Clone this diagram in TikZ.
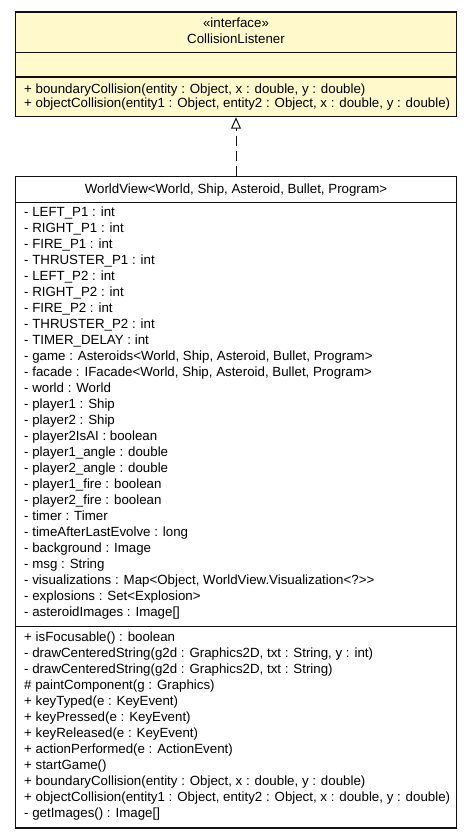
\documentclass[tikz,border=0pt]{standalone}
\usepackage{fontspec}
\setmainfont{Liberation Sans}
\usetikzlibrary{arrows.meta}
\definecolor{ifacefill}{HTML}{FFF9CC}
\definecolor{umlline}{HTML}{111111}
\begin{document}
\begin{tikzpicture}[x=1pt,y=-1pt,
  classbox/.style={draw=umlline, line width=1.1pt, rectangle, minimum width=441pt, inner sep=0pt},
  divider/.style={draw=umlline, line width=1.1pt},
  member/.style={anchor=base west, inner sep=0pt, font=\fontsize{13.3}{16}\selectfont},
  caption/.style={anchor=base, inner sep=0pt, font=\fontsize{13.3}{16}\selectfont},
  realize/.style={line width=1pt, draw=umlline, dash pattern=on 10pt off 5pt,
    -{Triangle[open, length=11.5pt, width=10pt, fill=white]}}]
\useasboundingbox (0,0) rectangle (472,837);

% interface CollisionListener
\node[classbox, fill=ifacefill, minimum height=104.7pt] (cl) at (236,64.35) {};
\draw[divider] (15.5,52.5) -- (456.5,52.5);
\draw[divider] (15.5,77) -- (456.5,77);
\node[caption] (clstereo) at (236,28) {«interface»};
\node[caption] (clname) at (236,43.7) {CollisionListener};
\node[member] (clm0) at (24,93.5) {+ boundaryCollision(entity : Object, x : double, y : double)};
\node[member] (clm1) at (24,107.8) {+ objectCollision(entity1 : Object, entity2 : Object, x : double, y : double)};

% class WorldView
\node[classbox, fill=white, minimum height=651.3pt] (wv) at (236,502.35) {};
\draw[divider] (15.5,202.5) -- (456.5,202.5);
\draw[divider] (15.5,626.5) -- (456.5,626.5);
\node[caption] (wvname) at (236,193.5) {WorldView<World, Ship, Asteroid, Bullet, Program>};

\foreach \t [count=\k from 0] in {
  {- LEFT\_P1 : int},
  {- RIGHT\_P1 : int},
  {- FIRE\_P1 : int},
  {- THRUSTER\_P1 : int},
  {- LEFT\_P2 : int},
  {- RIGHT\_P2 : int},
  {- FIRE\_P2 : int},
  {- THRUSTER\_P2 : int},
  {- TIMER\_DELAY : int},
  {- game : Asteroids<World, Ship, Asteroid, Bullet, Program>},
  {- facade : IFacade<World, Ship, Asteroid, Bullet, Program>},
  {- world : World},
  {- player1 : Ship},
  {- player2 : Ship},
  {- player2IsAI : boolean},
  {- player1\_angle : double},
  {- player2\_angle : double},
  {- player1\_fire : boolean},
  {- player2\_fire : boolean},
  {- timer : Timer},
  {- timeAfterLastEvolve : long},
  {- background : Image},
  {- msg : String},
  {- visualizations : Map<Object, WorldView.Visualization<?>{}>},
  {- explosions : Set<Explosion>},
  {- asteroidImages : Image[]}}
  \node[member] (wva\k) at (24,216.7+16*\k) {\t};

\foreach \t [count=\k from 0] in {
  {+ isFocusable() : boolean},
  {- drawCenteredString(g2d : Graphics2D, txt : String, y : int)},
  {- drawCenteredString(g2d : Graphics2D, txt : String)},
  {\# paintComponent(g : Graphics)},
  {+ keyTyped(e : KeyEvent)},
  {+ keyPressed(e : KeyEvent)},
  {+ keyReleased(e : KeyEvent)},
  {+ actionPerformed(e : ActionEvent)},
  {+ startGame()},
  {+ boundaryCollision(entity : Object, x : double, y : double)},
  {+ objectCollision(entity1 : Object, entity2 : Object, x : double, y : double)},
  {- getImages() : Image[]}}
  \node[member] (wvm\k) at (24,641+16*\k) {\t};

% realization
\draw[realize] (wv.north) -- (cl.south);
\end{tikzpicture}
\end{document}
